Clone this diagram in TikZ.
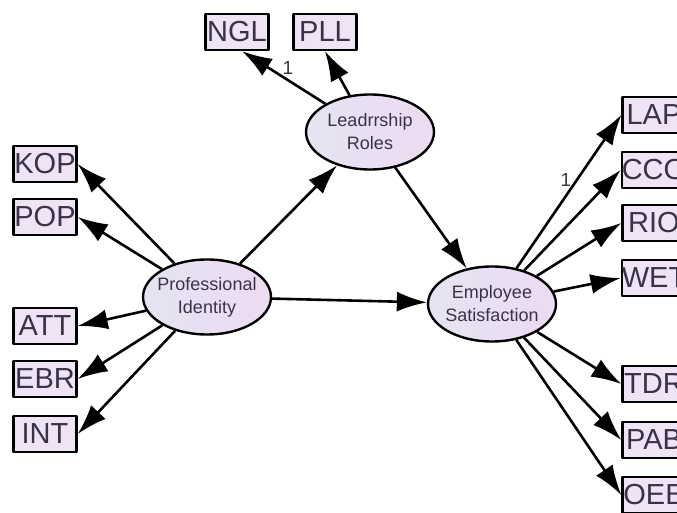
\documentclass[tikz,border=0pt]{standalone}
\usepackage{fontspec}
\setmainfont{Liberation Sans}
\usepackage{tikz}
\usetikzlibrary{arrows.meta,shapes}
\definecolor{lavbox}{RGB}{238,228,246}
\definecolor{lavleft}{RGB}{228,228,242}
\definecolor{lavright}{RGB}{238,218,242}
\definecolor{inkcol}{RGB}{58,50,70}

\tikzset{
  obs/.style={draw,line width=2.4bp,fill=lavbox,rectangle,inner sep=0pt,
    minimum width=63bp,minimum height=36bp,font=\fontsize{29bp}{29bp}\selectfont,text=inkcol},
  lat/.style={draw,line width=2.4bp,ellipse,left color=lavleft,right color=lavright,
    inner xsep=-12bp,inner ysep=-6bp,
    minimum width=128bp,minimum height=75bp,align=center,
    font=\fontsize{18bp}{23bp}\selectfont,text=inkcol},
  arr/.style={-{Latex[length=30bp,width=20bp]},line width=2.6bp},
  wt/.style={font=\fontsize{19bp}{19bp}\selectfont,text=inkcol}
}

\begin{document}
\begin{tikzpicture}[line join=bevel,]
\useasboundingbox (0bp,0bp) rectangle (677bp,513bp);
%%
\node (LR) at (370.0bp,381.0bp) [lat] {Leadrrship\\Roles};
  \node (PI) at (207.0bp,216.0bp) [lat] {Professional\\Identity};
  \node (ES) at (492.0bp,209.0bp) [lat] {Employee\\Satisfaction};
  \node (NGL) at (237.0bp,481.0bp) [obs] {NGL};
  \node (PLL) at (325.0bp,481.0bp) [obs] {PLL};
  \node (KOP) at (45.0bp,349.0bp) [obs] {KOP};
  \node (POP) at (45.0bp,296.0bp) [obs] {POP};
  \node (ATT) at (45.0bp,187.0bp) [obs] {ATT};
  \node (EBR) at (45.0bp,134.0bp) [obs] {EBR};
  \node (INT) at (45.0bp,79.0bp) [obs] {INT};
  \node (LAP) at (654.0bp,398.0bp) [obs] {LAP};
  \node (CCO) at (654.0bp,343.0bp) [obs] {CCO};
  \node (RIO) at (654.0bp,290.0bp) [obs] {RIO};
  \node (WET) at (654.0bp,235.0bp) [obs] {WET};
  \node (TDR) at (654.0bp,129.0bp) [obs] {TDR};
  \node (PAB) at (654.0bp,73.0bp) [obs] {PAB};
  \node (OEB) at (654.0bp,18.0bp) [obs] {OEB};
%
  \draw [arr] (PI) -- (LR);
  \draw [arr] (PI) -- (ES);
  \draw [arr] (LR) -- (ES);
  \draw [arr] (LR) -- (NGL.-75);
  \draw [arr] (LR) -- (PLL.-90);
  \draw (288.0bp,445.0bp) node [wt] (one1) {1};
  \draw [arr] (PI) -- (KOP.east);
  \draw [arr] (PI) -- (POP.east);
  \draw [arr] (PI) -- (ATT.east);
  \draw [arr] (PI) -- (EBR.east);
  \draw [arr] (PI) -- (INT.east);
  \draw [arr] (ES) -- (LAP.west);
  \draw (566.0bp,333.0bp) node [wt] (one2) {1};
  \draw [arr] (ES) -- (CCO.west);
  \draw [arr] (ES) -- (RIO.west);
  \draw [arr] (ES) -- (WET.west);
  \draw [arr] (ES) -- (TDR.west);
  \draw [arr] (ES) -- (PAB.west);
  \draw [arr] (ES) -- (OEB.west);
%
\end{tikzpicture}
\end{document}
